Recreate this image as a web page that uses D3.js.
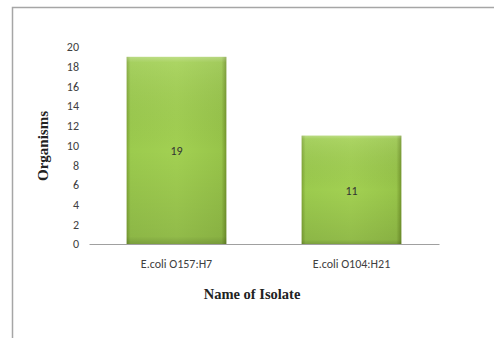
<!DOCTYPE html>
<html>
<head>
<meta charset="utf-8">
<title>Organisms by isolate</title>
<script src="https://cdn.jsdelivr.net/npm/d3@7"></script>
<style>
  body { margin: 0; background: #fff; }
</style>
</head>
<body>
<script>
// data
var isolates = ["E.coli O157:H7", "E.coli O104:H21"];
var counts = [19, 11];
var yTicks = [0, 2, 4, 6, 8, 10, 12, 14, 16, 18, 20];

var width = 494, height = 338;
var margin = {left: 89, right: 55, top: 47, bottom: 94};

var svg = d3.select("body").append("svg")
  .attr("width", width)
  .attr("height", height);

// outer frame (only top and left visible in the crop)
svg.append("path")
  .attr("d", "M12.5," + height + "V7.5H" + width)
  .attr("fill", "none")
  .attr("stroke", "#a6a6a6")
  .attr("stroke-width", 1.5);

var defs = svg.append("defs");
var hg = defs.append("linearGradient").attr("id", "barH")
  .attr("x1", 0).attr("x2", 1).attr("y1", 0).attr("y2", 0);
hg.append("stop").attr("offset", "0%").attr("stop-color", "#7fa536");
hg.append("stop").attr("offset", "4%").attr("stop-color", "#9ccb4e");
hg.append("stop").attr("offset", "50%").attr("stop-color", "#a2d052");
hg.append("stop").attr("offset", "95%").attr("stop-color", "#98c54a");
hg.append("stop").attr("offset", "100%").attr("stop-color", "#73962c");

var vg = defs.append("linearGradient").attr("id", "barV")
  .attr("x1", 0).attr("x2", 0).attr("y1", 0).attr("y2", 1);
vg.append("stop").attr("offset", "0%").attr("stop-color", "#ffffff").attr("stop-opacity", 0.3);
vg.append("stop").attr("offset", "3%").attr("stop-color", "#ffffff").attr("stop-opacity", 0.1);
vg.append("stop").attr("offset", "50%").attr("stop-color", "#000000").attr("stop-opacity", 0);
vg.append("stop").attr("offset", "96%").attr("stop-color", "#000000").attr("stop-opacity", 0.1);
vg.append("stop").attr("offset", "100%").attr("stop-color", "#000000").attr("stop-opacity", 0.22);

var x = d3.scaleBand()
  .domain(isolates)
  .range([margin.left, width - margin.right])
  .paddingInner(0.43)
  .paddingOuter(0.215);

var y = d3.scaleLinear()
  .domain([0, 20])
  .range([height - margin.bottom, margin.top]);

var sans = "Calibri, Carlito, 'Liberation Sans', sans-serif";
var serif = "'Liberation Serif', 'Times New Roman', serif";

// y axis labels (no axis line)
var yAxis = svg.append("g")
  .attr("transform", "translate(" + (margin.left - 10) + ",0)")
  .call(d3.axisLeft(y).tickValues(yTicks).tickSize(0).tickPadding(0));
yAxis.select(".domain").remove();
yAxis.selectAll("text")
  .attr("font-family", sans)
  .attr("font-size", 12)
  .attr("fill", "#404040");

// bars
var bars = svg.selectAll(".bar")
  .data(counts)
  .enter().append("g").attr("class", "bar");

bars.append("rect")
  .attr("x", function(d, i) { return x(isolates[i]); })
  .attr("y", function(d) { return y(d); })
  .attr("width", x.bandwidth())
  .attr("height", function(d) { return y(0) - y(d); })
  .attr("fill", "url(#barH)");
bars.append("rect")
  .attr("x", function(d, i) { return x(isolates[i]); })
  .attr("y", function(d) { return y(d); })
  .attr("width", x.bandwidth())
  .attr("height", function(d) { return y(0) - y(d); })
  .attr("fill", "url(#barV)");

// value labels
bars.append("text")
  .attr("x", function(d, i) { return x(isolates[i]) + x.bandwidth() / 2; })
  .attr("y", function(d) { return (y(d) + y(0)) / 2 + 5; })
  .attr("text-anchor", "middle")
  .attr("font-family", sans)
  .attr("font-size", 12)
  .attr("fill", "#333")
  .text(function(d) { return d; });

// x baseline
var xAxis = svg.append("g")
  .attr("transform", "translate(0," + y(0) + ")")
  .call(d3.axisBottom(x).tickSize(0).tickPadding(15).tickSizeOuter(0));
xAxis.select(".domain").attr("stroke", "#a0a0a0");
xAxis.selectAll("text")
  .attr("font-family", sans)
  .attr("font-size", 12)
  .attr("fill", "#404040");

// axis titles
svg.append("text")
  .attr("x", 252)
  .attr("y", 299)
  .attr("text-anchor", "middle")
  .attr("font-family", serif)
  .attr("font-weight", "bold")
  .attr("font-size", 14.5)
  .attr("fill", "#222")
  .text("Name of Isolate");

svg.append("text")
  .attr("transform", "translate(48,146) rotate(-90)")
  .attr("text-anchor", "middle")
  .attr("font-family", serif)
  .attr("font-weight", "bold")
  .attr("font-size", 15)
  .attr("fill", "#222")
  .text("Organisms");
</script>
</body>
</html>
